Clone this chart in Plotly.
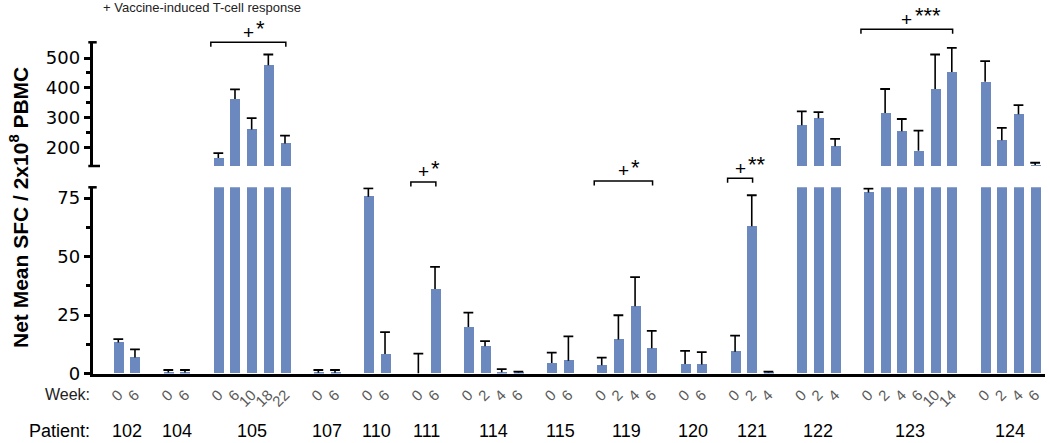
import plotly.graph_objects as go

# ---------------- data ----------------
patients = ["102", "104", "105", "107", "110", "111", "114", "115", "119", "120", "121", "122", "123", "124"]
weeks = [["0", "6"], ["0", "6"], ["0", "6", "10", "18", "22"], ["0", "6"], ["0", "6"], ["0", "6"],
         ["0", "2", "4", "6"], ["0", "6"], ["0", "2", "4", "6"], ["0", "6"], ["0", "2", "4"],
         ["0", "2", "4"], ["0", "2", "4", "6", "10", "14"], ["0", "2", "4", "6"]]
means = [[13.3, 6.8], [0.4, 0.4], [164, 362, 260, 476, 213], [0.3, 0.3], [75.6, 8.3], [0, 36.1],
         [19.9, 11.7, 0.5, 0.4], [4.5, 5.5], [3.5, 14.5, 28.7, 10.8], [4.1, 3.9], [9.3, 62.9, 0.4],
         [274, 298, 203], [77.4, 315, 254, 188, 396, 453], [420, 224, 311, 140]]
errors = [[1.4, 3.5], [1.1, 1.1], [16, 33, 38, 36, 26], [1.2, 1.2], [3.5, 9.4], [8.5, 9.5],
          [6.1, 2.1, 1.4, 0.4], [4.4, 10.4], [3.3, 10.4, 12.5, 7.4], [5.6, 5.2], [6.9, 13.3, 0.4],
          [47, 20, 25], [1.6, 81, 41, 68, 116, 81], [70, 41, 31, 8]]
# significance brackets: patient, first bar, last bar, stars
br_patients = ["105", "111", "119", "121", "123"]
br_first = [0, 0, 0, 0, 0]
br_last = [4, 1, 3, 1, 5]
br_stars = ["*", "*", "*", "**", "***"]
br_ypx = [42.3, 182, 181, 178.3, 29.3]

lower_ticks = [0, 25, 50, 75]
upper_ticks = [200, 300, 400, 500]

# ---------------- layout helpers ----------------
W, H = 1050, 443
def py(px):
    return (H - px) / H
def pxx(px):
    return px / W

BAR = "#6B88BF"

# slot positions
xs, xt, centers, group_slots = [], [], [], []
slot = 0
for wk in weeks:
    g = []
    for w in wk:
        xs.append(slot); xt.append(w); g.append(slot); slot += 1
    group_slots.append(g)
    centers.append((g[0] + g[-1]) / 2)
    slot += 1
vals = [v for g in means for v in g]
errs = [e for g in errors for e in g]

ex, ey, cx, cy = [], [], [], []
for x, v, e in zip(xs, vals, errs):
    ex += [x, x, None]; ey += [v, v + e, None]
    cx.append(x); cy.append(v + e)

fig = go.Figure()
for yax, xax in (("y", "x"), ("y2", "x2")):
    fig.add_trace(go.Bar(x=xs, y=vals, width=0.6, marker=dict(color=BAR, line=dict(width=0)),
                         xaxis=xax, yaxis=yax, showlegend=False))
    fig.add_trace(go.Scatter(x=ex, y=ey, mode="lines", line=dict(color="black", width=1.6),
                             xaxis=xax, yaxis=yax, showlegend=False, hoverinfo="skip"))
    fig.add_trace(go.Scatter(x=cx, y=cy, mode="markers",
                             marker=dict(symbol="line-ew", size=7, line=dict(color="black", width=1.8)),
                             xaxis=xax, yaxis=yax, showlegend=False, hoverinfo="skip"))

x0px, x1px = 92.5, 1045
s0, ds = 118.3, 16.67
xrange = [(x0px - s0) / ds, (x1px - s0) / ds]
xdom = [pxx(x0px), pxx(x1px)]

tickfont = dict(family="DejaVu Sans", size=18, color="black")
fig.update_layout(
    width=W, height=H, margin=dict(l=0, r=0, t=0, b=0), autosize=False,
    plot_bgcolor="white", paper_bgcolor="white", bargap=0,
    font=dict(family="Liberation Sans, Arial", color="black"),
    xaxis=dict(domain=xdom, range=xrange, anchor="y", showline=True, linecolor="black", linewidth=2.5,
               tickmode="array", tickvals=xs, ticktext=xt, ticks="", tickangle=-45,
               tickfont=dict(family="Liberation Sans, Arial", size=15, color="#5a5a5a"),
               ticklabelstandoff=4, showgrid=False, zeroline=False, automargin=False),
    xaxis2=dict(domain=xdom, range=xrange, anchor="y2", matches="x", visible=False),
    yaxis=dict(domain=[py(373.5), py(187.3)], range=[0, 79.6], anchor="x", showline=True,
               linecolor="black", linewidth=2.5, ticks="outside", ticklen=6, tickwidth=2.5,
               tickcolor="black", tickmode="array", tickvals=lower_ticks, tickfont=tickfont,
               minor=dict(tickvals=[12.5, 37.5, 62.5], ticks="outside", ticklen=4, tickwidth=2.5,
                          tickcolor="black"),
               showgrid=False, zeroline=False, automargin=False),
    yaxis2=dict(domain=[py(166), py(42.3)], range=[137, 553], anchor="x2", showline=True,
                linecolor="black", linewidth=2.5, ticks="outside", ticklen=6, tickwidth=2.5,
                tickcolor="black", tickmode="array", tickvals=upper_ticks, tickfont=tickfont,
                minor=dict(tickvals=[250, 350, 450], ticks="outside", ticklen=4, tickwidth=2.5,
                           tickcolor="black"),
                showgrid=False, zeroline=False, automargin=False),
)

shapes = []
# axis end caps
shapes.append(dict(type="line", xref="paper", yref="y domain", x0=pxx(88.3), x1=pxx(96.7), y0=1, y1=1,
                   line=dict(color="black", width=2.5)))
shapes.append(dict(type="line", xref="paper", yref="y2 domain", x0=pxx(88.3), x1=pxx(96.7), y0=1, y1=1,
                   line=dict(color="black", width=2.5)))
shapes.append(dict(type="line", xref="paper", yref="y2 domain", x0=pxx(88.3), x1=pxx(100), y0=0, y1=0,
                   line=dict(color="black", width=2.5)))

ann = []
for p, f, l, st, ypx in zip(br_patients, br_first, br_last, br_stars, br_ypx):
    g = group_slots[patients.index(p)]
    xa, xb = g[f] - 0.45, g[l] + 0.05
    yt, yl = py(ypx), py(ypx + 4.5)
    shapes.append(dict(type="path", xref="x", yref="paper",
                       path=f"M{xa},{yl} L{xa},{yt} L{xb},{yt} L{xb},{yl}",
                       line=dict(color="black", width=1.5)))
    xc = (xa + xb) / 2
    ann.append(dict(x=xc, y=py(ypx - 10.3), xref="x", yref="paper", text="+", showarrow=False,
                    font=dict(size=19, color="black"), xanchor="center", yanchor="middle"))
    ann.append(dict(x=xc, y=py(ypx - 14), xref="x", yref="paper", text=st, showarrow=False,
                    font=dict(size=22, color="black"), xanchor="left", yanchor="middle", xshift=6))

for p, c in zip(patients, centers):
    ann.append(dict(x=c, y=py(431), xref="x", yref="paper", text=p, showarrow=False,
                    font=dict(size=18, color="black"), xanchor="center", yanchor="middle"))
ann.append(dict(x=pxx(92), y=py(431), xref="paper", yref="paper", text="Patient:", showarrow=False,
                font=dict(size=18, color="black"), xanchor="right", yanchor="middle"))
ann.append(dict(x=pxx(92), y=py(394), xref="paper", yref="paper", text="Week:", showarrow=False,
                font=dict(size=16, color="#222"), xanchor="right", yanchor="middle"))
ann.append(dict(x=pxx(101), y=py(8), xref="paper", yref="paper", text="+ Vaccine-induced T-cell response",
                showarrow=False, font=dict(size=13, color="#222"), xanchor="left", yanchor="middle"))
ann.append(dict(x=pxx(19), y=py(208), xref="paper", yref="paper",
                text="<b>Net Mean SFC / 2x10<sup>8</sup> PBMC</b>", textangle=-90, showarrow=False,
                font=dict(size=21, color="black"), xanchor="center", yanchor="middle"))

fig.update_layout(shapes=shapes, annotations=ann)
fig.write_html("out.html", config={"displayModeBar": False},
               post_script="document.body.style.margin='0px';")
